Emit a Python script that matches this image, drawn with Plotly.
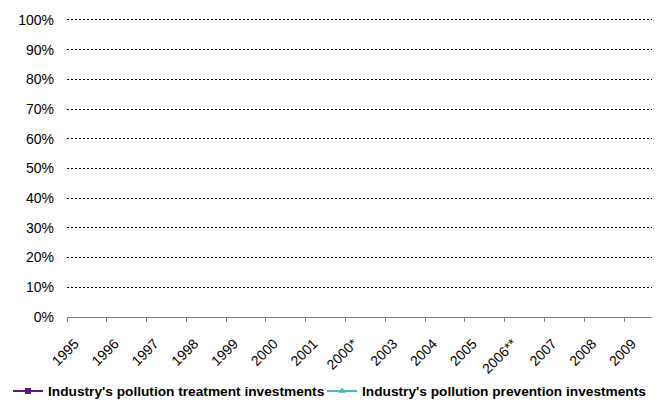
import plotly.graph_objects as go

years = ["1995", "1996", "1997", "1998", "1999", "2000", "2001", "2000*",
         "2003", "2004", "2005", "2006**", "2007", "2008", "2009"]
treatment = [None] * len(years)
prevention = [None] * len(years)

fig = go.Figure()
fig.add_trace(go.Scatter(x=years, y=treatment, mode="lines+markers",
                         name="Industry's pollution treatment investments",
                         line=dict(color="#5E1782", width=2),
                         marker=dict(symbol="square", size=6, color="#5E1782"),
                         legend="legend"))
fig.add_trace(go.Scatter(x=years, y=prevention, mode="lines+markers",
                         name="Industry's pollution prevention investments",
                         line=dict(color="#4DB8B8", width=2),
                         marker=dict(symbol="triangle-up", size=7, color="#4DB8B8"),
                         legend="legend2"))

W, H = 652, 395
font = dict(family="Liberation Sans, Arial, sans-serif", size=14, color="#000")
lfont = dict(family="Liberation Sans, Arial, sans-serif", size=13.7,
             color="#000", weight="bold")
fig.update_layout(
    width=W, height=H,
    margin=dict(l=59, r=0, t=9, b=86),
    plot_bgcolor="white", paper_bgcolor="white",
    font=font,
    showlegend=True,
    legend=dict(orientation="h", xref="container", yref="container",
                x=0.0, y=0.03, xanchor="left", yanchor="middle",
                font=lfont, itemwidth=30, bgcolor="rgba(0,0,0,0)"),
    legend2=dict(orientation="h", xref="container", yref="container",
                 x=314 / W, y=0.03, xanchor="left", yanchor="middle",
                 font=lfont, itemwidth=30, bgcolor="rgba(0,0,0,0)"),
    xaxis=dict(type="category", categoryorder="array", categoryarray=years,
               range=[-0.5, 14.4], tickson="boundaries", ticks="outside",
               ticklen=4, tickcolor="#808080", showline=True, linecolor="#808080",
               linewidth=1, showgrid=False, tickangle=-45, zeroline=False,
               tickfont=font, automargin=False,
               ticklabelstandoff=12, ticklabelshift=-12),
    yaxis=dict(range=[0, 101], tickvals=list(range(0, 101, 10)),
               ticktext=[f"{v}%" for v in range(0, 101, 10)], showgrid=True,
               gridcolor="#000", griddash="2px,2px", gridwidth=1, zeroline=False,
               showline=False, ticks="", ticklabelstandoff=12, tickfont=font,
               automargin=False),
)
fig.write_html("out.html")
